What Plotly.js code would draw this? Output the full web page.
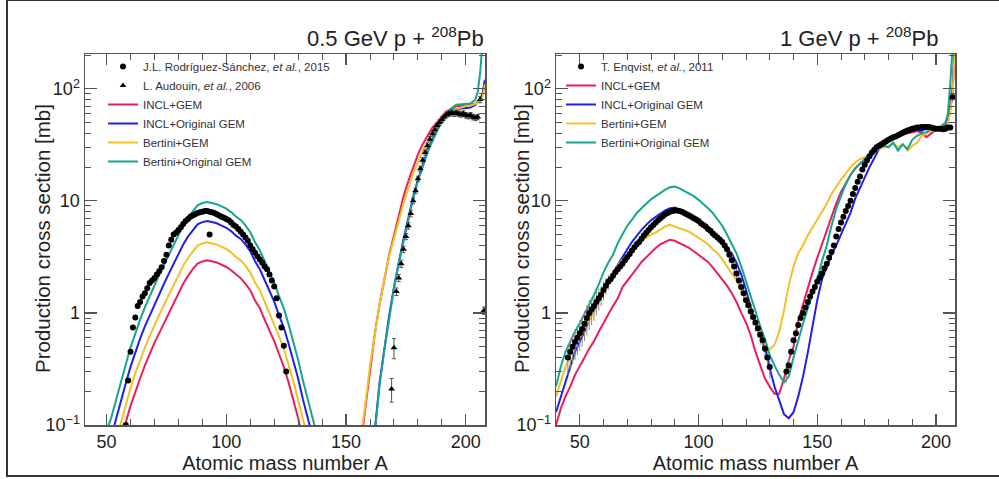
<!DOCTYPE html>
<html>
<head>
<meta charset="utf-8">
<script src="https://cdn.plot.ly/plotly-3.0.1.min.js"></script>
<style>
  html, body { margin:0; padding:0; background:#fff; }
  #wrap { position:relative; width:999px; height:479px; overflow:hidden; }
  #plot { position:absolute; left:0; top:0; width:999px; height:479px; }
  #frame { position:absolute; left:6px; top:-1px; width:1010px; height:478px; box-sizing:border-box;
           border:2px solid #333; pointer-events:none; }
</style>
</head>
<body>
<div id="wrap"><div id="plot"></div><div id="frame"></div></div>
<script>
// ---------------- 0.5 GeV p + 208Pb ----------------
const leftFisA = [48,50,52,54,56,58,60,62,64,66,68,70,72,74,76,78,80,82,84,86,88,90,92,94,96,98,100,102,104,106,108,110,112,114,116,118,120,122,124,126,128,130,132,134,136,138,140];
const leftFisInclGem   = [0.017,0.027,0.035,0.051,0.072,0.105,0.148,0.20,0.26,0.34,0.43,0.54,0.66,0.81,1.00,1.23,1.48,1.82,2.14,2.46,2.75,2.88,2.95,2.88,2.82,2.69,2.57,2.40,2.19,2.04,1.82,1.59,1.29,1.10,0.87,0.71,0.56,0.43,0.33,0.24,0.169,0.115,0.075,0.050,0.034,0.024,0.017];
const leftFisInclOrig  = [0.038,0.060,0.079,0.115,0.162,0.235,0.33,0.45,0.59,0.76,0.95,1.20,1.48,1.82,2.24,2.75,3.31,4.08,4.79,5.50,6.17,6.46,6.60,6.46,6.31,6.02,5.75,5.37,4.89,4.57,4.08,3.55,2.89,2.45,1.95,1.58,1.26,0.95,0.74,0.53,0.38,0.26,0.169,0.112,0.076,0.053,0.037];
const leftFisBertGem   = [0.024,0.039,0.051,0.074,0.105,0.152,0.214,0.29,0.38,0.49,0.62,0.78,0.96,1.18,1.45,1.78,2.14,2.64,3.09,3.55,3.99,4.17,4.27,4.17,4.08,3.89,3.72,3.47,3.16,2.95,2.64,2.29,1.87,1.59,1.26,1.02,0.81,0.62,0.48,0.345,0.245,0.166,0.109,0.073,0.049,0.035,0.024];
const leftFisBertOrig  = [0.056,0.089,0.117,0.17,0.24,0.347,0.49,0.66,0.87,1.12,1.41,1.78,2.19,2.69,3.31,4.07,4.9,6.03,7.08,8.13,9.12,9.55,9.77,9.55,9.33,8.91,8.51,7.94,7.24,6.76,6.03,5.25,4.27,3.63,2.88,2.34,1.86,1.41,1.10,0.79,0.56,0.38,0.25,0.166,0.112,0.079,0.055];

const leftResA = [154,156,158,160,162,164,166,168,170,172,174,176,178,180,182,184,186,188,190,192,194,196,198,200,202,204,205,206,207,208];
const leftResInclGem   = [0.03,0.06,0.14,0.32,0.65,1.2,2.0,3.3,4.9,7.5,11,15,20,26,32,38,45,50,57,63,66,70,70,71,72,74,76,80,90,120];
const leftResInclOrig  = [0.006,0.011,0.02,0.045,0.09,0.24,0.5,0.95,1.7,2.9,4.6,7.0,10.8,15.5,21,28,35,43,52,60,64,66,67,68,68,72,76,82,90,120];
const leftResBertGem   = [0.035,0.07,0.15,0.34,0.66,1.2,2.0,3.2,4.6,6.8,9.5,13,17.5,22,28,34,40,47,53,58,63,66,68,70,71,73,75,78,85,110];
const leftResBertOrig  = [0.005,0.01,0.018,0.04,0.085,0.23,0.47,0.92,1.65,2.8,4.4,6.8,10.5,15,20.5,27,34,42,52,60,67,72,73,73,74,80,95,140,260,500];

// J.L. Rodriguez-Sanchez et al., 2015 (circles)
const rsA   = [58,59,60,61,62,63,64,65,66,67,68,69,70,71,72,73,74,75,76,77,78,79,80,81,82,83,84,85,86,87,88,89,90,91,92,93,94,95,96,97,98,99,100,101,102,103,104,105,106,107,108,109,110,111,112,113,114,115,116,117,118,119,120,121,122,123,124,125,93];
const rsVal = [0.10,0.25,0.45,0.74,0.91,1.15,1.25,1.4,1.5,1.66,1.85,1.95,2.05,2.2,2.35,2.55,2.9,3.3,4.0,4.5,5.0,5.2,5.5,5.8,6.2,6.6,6.9,7.2,7.4,7.6,7.8,7.9,8.0,8.1,8.1,8.0,7.9,7.8,7.6,7.4,7.2,7.05,6.9,6.7,6.4,6.1,5.9,5.6,5.3,5.0,4.7,4.4,4.0,3.7,3.45,3.2,3.0,2.8,2.6,2.45,2.2,1.95,1.72,1.35,0.95,0.74,0.51,0.30,5.0];

// L. Audouin et al., 2006 (triangles)
const auA   = [169,170,171,172,173,174,175,176,177,178,179,180,181,182,183,184,185,186,187,188,189,190,191,192,193,194,195,196,197,198,199,200,201,202,203,204,205,206,207.6];
const auVal = [0.21,0.49,1.55,2.05,2.75,3.7,4.8,6.0,7.7,10.0,12.3,15.7,19.3,23,27,31,35.5,39.6,43,47,50,53,56,59,60,61,60,61,60,59,60,58,57,58,56,55,56,80,1.05];
const auErr = [0.05,0.10,0.12,0.15,0.2,0.25,0.3,0.4,0.5,0.6,0.7,0.9,1.1,1.3,1.5,1.8,2,2.2,2.5,2.7,3,3,3.2,3.3,3.4,3.5,3.4,3.5,3.4,3.3,3.4,3.3,3.2,3.3,3.2,3.1,3.2,5,0.08];

// ---------------- 1 GeV p + 208Pb ----------------
const rightA = [40,42,44,46,48,50,52,54,56,58,60,62,64,66,68,70,72,74,76,78,80,82,84,86,88,90,92,94,96,98,100,102,104,106,108,110,112,114,116,118,120,122,124,126,128,130,132,134,136,138,140,142,144,146,148,150,152,154,156,158,160,162,164,166,168,170,172,174,176,178,180,182,184,186,188,190,192,194,196,198,200,202,204,205,206,207,208];
const rightInclGem  = [0.10,0.14,0.18,0.22,0.28,0.33,0.40,0.48,0.56,0.68,0.82,0.97,1.15,1.35,1.7,1.95,2.2,2.5,2.85,3.15,3.5,3.8,4.1,4.3,4.5,4.4,4.2,4.0,3.8,3.55,3.3,3.1,2.85,2.55,2.25,2.0,1.75,1.5,1.25,1.0,0.82,0.63,0.45,0.34,0.26,0.22,0.19,0.19,0.26,0.38,0.5,0.85,1.2,1.7,2.3,3.1,4.1,5.4,7.3,9.5,12,14.5,17,19.5,21.5,23,25,27,29,31,34,36,38,39,40,41,42,40,37,40,43,44,45,50,65,95,250];
const rightInclOrig = [0.13,0.18,0.24,0.33,0.45,0.55,0.68,0.88,1.1,1.35,1.65,1.95,2.3,2.7,3.15,3.7,4.3,4.9,5.5,6.1,6.7,7.2,7.7,8.2,8.6,8.7,8.3,8.0,7.6,7.1,6.6,6.1,5.7,5.2,4.7,4.2,3.8,3.4,2.8,2.2,1.6,1.1,0.80,0.62,0.48,0.32,0.22,0.166,0.125,0.115,0.13,0.18,0.27,0.44,0.75,1.3,2.0,2.6,3.3,4.0,5.0,6.3,7.8,10.5,13,16.5,20,24,29,33,35,36,38,39,41,42,43,42,44,45,45,45,47,55,70,100,300];
const rightBertGem  = [0.18,0.25,0.33,0.42,0.52,0.62,0.74,0.87,1.02,1.25,1.55,1.95,2.3,2.65,3.0,3.3,3.65,4.0,4.35,4.7,5.0,5.2,5.5,5.9,6.1,5.9,5.7,5.5,5.3,5.0,4.7,4.4,4.1,3.7,3.4,3.0,2.6,2.25,1.95,1.6,1.3,1.05,0.8,0.65,0.52,0.47,0.52,0.68,1.05,1.75,2.6,3.4,4.0,4.9,5.7,6.8,8.0,9.4,11.5,13.5,15.5,17.5,20,22,23.5,24.5,26,27.5,29,30,31,33,30,32,28,31,33,38,40,42,43,44,45,50,62,90,250];
const rightBertOrig = [0.22,0.33,0.45,0.56,0.68,0.81,0.98,1.2,1.45,1.8,2.3,2.8,3.3,4.2,5.0,6.0,6.8,7.8,8.6,9.5,10.3,11.0,11.8,12.6,13.2,13.4,12.9,12.3,11.7,11.0,10.2,9.4,8.6,7.8,6.9,6.0,5.0,4.1,3.4,2.6,1.9,1.4,1.0,0.76,0.58,0.42,0.34,0.28,0.24,0.27,0.40,0.58,0.80,1.1,1.5,2.0,2.9,4.0,6.0,8.5,11,14,17,19.5,21.5,23.5,26,28,30,31,30,33,28,32,29,35,38,40,41,44,45,46,50,60,110,220,500];

// T. Enqvist et al., 2011 (circles)
const enA   = [45,46,47,48,49,50,51,52,53,54,55,56,57,58,59,60,61,62,63,64,65,66,67,68,69,70,71,72,73,74,75,76,77,78,79,80,81,82,83,84,85,86,87,88,89,90,91,92,93,94,95,96,97,98,99,100,101,102,103,104,105,106,107,108,109,110,111,112,113,114,115,116,117,118,119,120,121,122,123,124,125,126,127,128,129,130,
               137,138,139,140,141,142,143,144,145,146,147,148,149,150,151,152,153,154,155,156,157,158,159,160,161,162,163,164,165,166,167,168,169,170,171,172,173,174,175,176,177,178,179,180,181,182,183,184,185,186,187,188,189,190,191,192,193,194,195,196,197,198,199,200,201,202,203,204,205,206,207];
const enVal = [0.40,0.45,0.50,0.55,0.60,0.66,0.72,0.80,0.90,1.0,1.08,1.15,1.25,1.35,1.45,1.6,1.75,1.9,2.0,2.15,2.3,2.45,2.6,2.75,2.95,3.15,3.35,3.6,3.85,4.1,4.3,4.6,4.9,5.2,5.5,5.8,6.1,6.4,6.7,7.0,7.3,7.6,7.8,8.0,8.1,8.2,8.2,8.1,8.0,7.8,7.6,7.4,7.2,7.0,6.8,6.6,6.3,6.1,5.9,5.6,5.4,5.1,4.9,4.7,4.5,4.3,4.0,3.7,3.3,2.95,2.6,2.25,1.95,1.7,1.5,1.3,1.17,1.03,0.92,0.82,0.73,0.64,0.57,0.48,0.40,0.33,
               0.30,0.34,0.45,0.57,0.66,0.78,0.90,1.0,1.12,1.25,1.40,1.55,1.70,1.90,2.05,2.25,2.5,2.75,3.1,3.5,4.0,4.8,5.6,6.4,7.2,8.1,9.0,10.0,11.5,13,14.8,16.5,19,21,23,25,27,28.5,30,31,32,33,34,35,36,37,37.5,38.5,39.5,40.5,41.5,42.5,43,44,44.5,45,45,45.5,45.5,45.5,45.5,45,44.5,44,44,44,43.5,44,45,45,84];
const enErr = [0.12,0.14,0.15,0.17,0.18,0.2,0.22,0.24,0.27,0.3,0.3,0.3,0.3,0.3,0.3,0.3,0.3,0.3,0,0,0,0,0,0,0,0,0,0,0,0,0,0,0,0,0,0,0,0,0,0,0,0,0,0,0,0,0,0,0,0,0,0,0,0,0,0,0,0,0,0,0,0,0,0,0,0,0,0.4,0.4,0.4,0.35,0.3,0.3,0.25,0.22,0.2,0.18,0.16,0.15,0.14,0.13,0.12,0.1,0.09,0.08,0.07,
               0.06,0.05,0,0,0,0,0,0,0,0,0,0,0,0,0,0,0,0,0,0,0,0,0,0,0,0,0,0,0,0,0,0,0,0,0,0,0,0,0,0,0,0,0,0,0,0,0,0,0,0,0,0,0,0,0,0,0,0,0,0,0,0,0,0,0,0,0,0,0,0,8];

const modelNames  = ['INCL+GEM','INCL+Original GEM','Bertini+GEM','Bertini+Original GEM'];
const modelColors = ['#e8205a','#2020e8','#f0c228','#17a590'];

const FONT = 'Liberation Sans, Arial, Helvetica, sans-serif';
const traces = [];

const leftFis = [leftFisInclGem, leftFisInclOrig, leftFisBertGem, leftFisBertOrig];
const leftRes = [leftResInclGem, leftResInclOrig, leftResBertGem, leftResBertOrig];
const rightMod = [rightInclGem, rightInclOrig, rightBertGem, rightBertOrig];

for (let i = 0; i < 4; i++) {
  traces.push({x: leftFisA, y: leftFis[i], xaxis:'x', yaxis:'y', mode:'lines', name: modelNames[i],
    line:{color: modelColors[i], width:2}, legend:'legend', legendgroup:'L'+i, legendrank: 10+i});
  traces.push({x: leftResA, y: leftRes[i], xaxis:'x', yaxis:'y', mode:'lines', name: modelNames[i],
    line:{color: modelColors[i], width:2}, legend:'legend', legendgroup:'L'+i, showlegend:false});
  traces.push({x: rightA, y: rightMod[i], xaxis:'x2', yaxis:'y2', mode:'lines', name: modelNames[i],
    line:{color: modelColors[i], width:2}, legend:'legend2', legendgroup:'R'+i, legendrank: 10+i});
}

traces.push({x: rsA, y: rsVal, xaxis:'x', yaxis:'y', mode:'markers', name:'J.L. Rodríguez-Sánchez, <i>et al.</i>, 2015',
  marker:{symbol:'circle', size:6, color:'#000'}, legend:'legend', legendrank:1});
traces.push({x: auA, y: auVal, xaxis:'x', yaxis:'y', mode:'markers', name:'L. Audouin, <i>et al.</i>, 2006',
  marker:{symbol:'triangle-up', size:6, color:'#000'}, legend:'legend', legendrank:2,
  error_y:{type:'data', array: auErr, visible:true, color:'#555', thickness:1, width:2}});
traces.push({x: enA, y: enVal, xaxis:'x2', yaxis:'y2', mode:'markers', name:'T. Enqvist, <i>et al.</i>, 2011',
  marker:{symbol:'circle', size:6, color:'#000'}, legend:'legend2', legendrank:1,
  error_y:{type:'data', array: enErr, visible:true, color:'#888', thickness:1, width:0}});

const minorX = [40,60,70,80,90,110,120,130,140,160,170,180,190];
const minorY = [0.2,0.3,0.4,0.5,0.6,0.7,0.8,0.9,2,3,4,5,6,7,8,9,20,30,40,50,60,70,80,90,200];

function xAxis(domain, range, anchor) {
  return {domain, range, anchor, showline:true, linecolor:'#555', linewidth:1.5, mirror:'allticks',
    ticks:'inside', ticklen:11, tickwidth:1.2, tickcolor:'#555', showgrid:false, zeroline:false,
    tickvals:[50,100,150,200], ticktext:['50','100','150','200'], automargin:false,
    tickfont:{size:18, color:'#222', family:FONT},
    minor:{tickvals:minorX, ticks:'inside', ticklen:6, tickwidth:1, tickcolor:'#555', showgrid:false},
    title:{text:'Atomic mass number A', font:{size:20, color:'#222', family:FONT}, standoff:3}};
}
function yAxis(domain, anchor) {
  return {domain, anchor, type:'log', range:[-1, 2.31], showline:true, linecolor:'#555', linewidth:1.5, mirror:'allticks',
    ticks:'inside', ticklen:12, tickwidth:1.2, tickcolor:'#555', showgrid:false, zeroline:false, automargin:false,
    tickvals:[0.1,1,10,100], ticktext:['10<sup>−1</sup>','1','10','10<sup>2</sup>'],
    tickfont:{size:18, color:'#222', family:FONT},
    minor:{tickvals:minorY, ticks:'inside', ticklen:6, tickwidth:1, tickcolor:'#555', showgrid:false}};
}

const W = 999, H = 479;
const yTitle = 'Production cross section [mb]';
const layout = {
  width: W, height: H, margin:{l:0, r:0, t:0, b:0, pad:0},
  paper_bgcolor:'#fff', plot_bgcolor:'#fff',
  font:{family:FONT, color:'#222'},
  showlegend:true,
  xaxis:  xAxis([85/W, 485/W], [41, 208], 'y'),
  yaxis:  yAxis([1-425/H, 1-54/H], 'x'),
  xaxis2: xAxis([556/W, 955/W], [40, 208], 'y2'),
  yaxis2: yAxis([1-425/H, 1-54/H], 'x2'),
  legend:  {x: 103/W, y: 1-52/H, xanchor:'left', yanchor:'top', bgcolor:'rgba(0,0,0,0)', borderwidth:0,
            font:{size:11.5, color:'#333', family:FONT}, tracegroupgap:0, itemwidth:30, traceorder:'normal'},
  legend2: {x: 561/W, y: 1-52/H, xanchor:'left', yanchor:'top', bgcolor:'rgba(0,0,0,0)', borderwidth:0,
            font:{size:11.5, color:'#333', family:FONT}, tracegroupgap:0, itemwidth:30, traceorder:'normal'},
  annotations: [
    {text:'0.5 GeV p + <sup>208</sup>Pb', xref:'paper', yref:'paper', x:486/W, y:1-37/H, xanchor:'right', yanchor:'middle',
     showarrow:false, font:{size:22, color:'#222', family:FONT}},
    {text:'1 GeV p + <sup>208</sup>Pb', xref:'paper', yref:'paper', x:940/W, y:1-37/H, xanchor:'right', yanchor:'middle',
     showarrow:false, font:{size:22, color:'#222', family:FONT}},
    {text:yTitle, textangle:-90, xref:'paper', yref:'paper', x:42/W, y:1-239/H, xanchor:'center', yanchor:'middle',
     showarrow:false, font:{size:20.5, color:'#222', family:FONT}},
    {text:yTitle, textangle:-90, xref:'paper', yref:'paper', x:521/W, y:1-239/H, xanchor:'center', yanchor:'middle',
     showarrow:false, font:{size:20.5, color:'#222', family:FONT}}
  ]
};

Plotly.newPlot('plot', traces, layout, {staticPlot:true, displayModeBar:false});
</script>
</body>
</html>
